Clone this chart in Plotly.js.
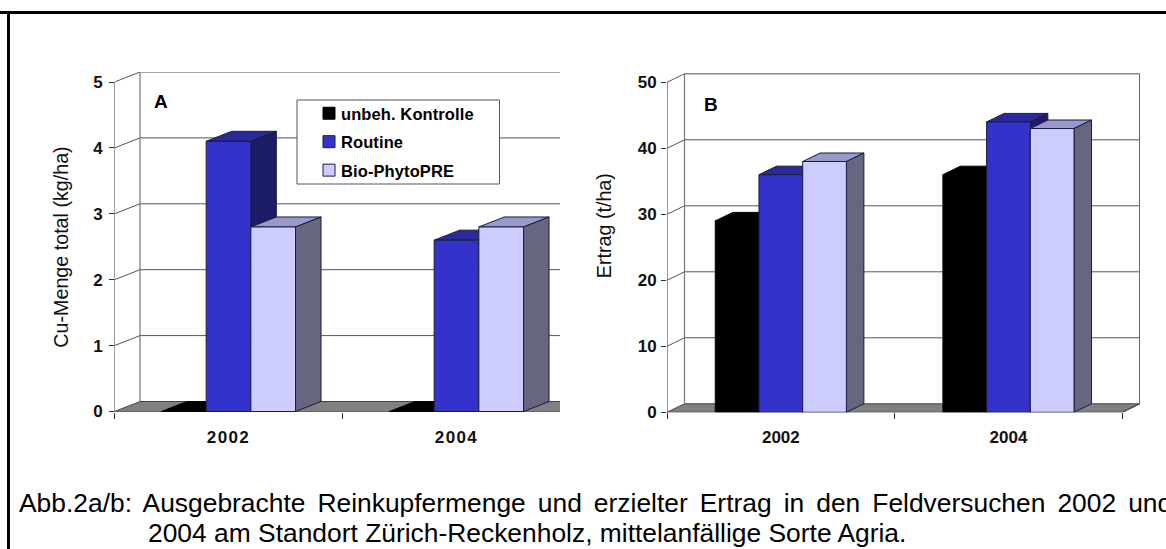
<!DOCTYPE html>
<html><head><meta charset="utf-8">
<script src="https://cdn.plot.ly/plotly-3.0.1.min.js"></script>
<style>
html,body{margin:0;padding:0;background:#fff;overflow:hidden}
.legend .legendsymbols{transform:translate(8px,0)}
.legend .legendtext{letter-spacing:.1px}
.xtick text,.ytick text{letter-spacing:1.4px}
.annotation[data-index="2"] text{word-spacing:4.7px}
</style></head><body>
<div id="chart" style="width:1166px;height:549px"></div>
<script>
const categories=['2002','2004'];
const seriesNames=['unbeh. Kontrolle','Routine','Bio-PhytoPRE'];
const cuControl=[0,0];
const cuRoutine=[4.1,2.6];
const cuBio=[2.8,2.8];
const yieldControl=[29,36];
const yieldRoutine=[36,44];
const yieldBio=[38,43];
const cuTicks=[0,1,2,3,4,5];
const yieldTicks=[0,10,20,30,40,50];
const frontColors=['#000000','#3333cc','#ccccff'];
const topColors=['#000000','#2a2a99','#9999cc'];
const sideColors=['#000000','#1c1c66','#666680'];
const edgeColors=['#000000','#1a1a40','#1a1a40'];

const W=1166,H=549;
const traces=[];const layout={
  width:W,height:H,margin:{l:0,r:0,t:0,b:0},paper_bgcolor:'#fff',plot_bgcolor:'rgba(0,0,0,0)',
  barmode:'overlay',hovermode:false,
  font:{family:'"Liberation Sans",Arial,sans-serif',color:'#000'},
  showlegend:true,
  legend:{x:301/W,y:1-96/H,xanchor:'left',yanchor:'top',bgcolor:'rgba(0,0,0,0)',borderwidth:0,
    font:{size:16.5,family:'"Liberation Sans",Arial,sans-serif',weight:'bold',color:'#000'},
    traceorder:'grouped',tracegroupgap:4},
  shapes:[
    {type:'rect',xref:'paper',yref:'paper',x0:297/W,x1:499.5/W,y0:1-184/H,y1:1-100/H,layer:'above',fillcolor:'#fff',line:{color:'#555',width:1}},
    {type:'line',xref:'paper',yref:'paper',x0:0,x1:1,y0:1-12.5/H,y1:1-12.5/H,layer:'above',line:{color:'#000',width:3}},
    {type:'line',xref:'paper',yref:'paper',x0:8.5/W,x1:8.5/W,y0:0,y1:1-11/H,layer:'above',line:{color:'#000',width:3}}
  ],
  annotations:[]
};

function poly(ax,ay,xs,ys,color,edge,width){
  traces.push({type:'scatter',mode:'lines',xaxis:ax,yaxis:ay,x:xs,y:ys,fill:'toself',fillcolor:color,
    line:{color:edge,width:width===undefined?1:width},hoverinfo:'skip',showlegend:false});
}
function lines(ax,ay,xs,ys,color,width,noclip){
  traces.push({type:'scatter',mode:'lines',xaxis:ax,yaxis:ay,x:xs,y:ys,line:{color:color,width:width},
    hoverinfo:'skip',showlegend:false,connectgaps:false,cliponaxis:!noclip});
}

function panel(p){
  const ax='x'+(p.idx===0?'':p.idx*2+1), ay='y'+(p.idx===0?'':p.idx*2+1);
  const ovx='x'+(p.idx*2+2), ovy='y'+(p.idx*2+2);
  const xName=a=>a==='x'?'xaxis':'xaxis'+a.slice(1), yName=a=>a==='y'?'yaxis':'yaxis'+a.slice(1);
  const maxVal=p.ticks[p.ticks.length-1];
  const xEnd=(p.pxRight-p.px0)/p.pxGroup;
  const yTop=(p.y0-p.domTop)/p.pxPerUnit;
  const yBottom=(p.y0-p.domBottom)/p.pxPerUnit;
  const dx=p.depthX/p.pxGroup, dy=p.depthY/p.pxPerUnit;
  const wallEnd=p.wallRight===null?xEnd+1:(p.wallRight-p.px0)/p.pxGroup;
  const frontEnd=p.frontEnd;
  const domX=[p.px0/W,p.pxRight/W], domY=[1-p.domBottom/H,1-p.domTop/H];
  const common={showgrid:false,zeroline:false,showline:false};
  layout[xName(ax)]=Object.assign({},common,{domain:domX,range:[0,xEnd],anchor:'free',position:1-p.y0/H,
    tickmode:'array',tickvals:categories.map((c,i)=>i+0.5),ticktext:categories,ticks:'',ticklen:0,
    ticklabelstandoff:13,
    tickfont:{size:17,weight:'bold',color:'#111'},
    minor:{tickmode:'array',tickvals:[0,1,2],ticks:'outside',ticklen:6,tickcolor:'#333',tickwidth:1,showgrid:false}});
  layout[yName(ay)]=Object.assign({},common,{domain:domY,range:[yBottom,yTop],anchor:ax,
    tickmode:'array',tickvals:p.ticks,ticks:'outside',ticklen:5,tickcolor:'#333',tickwidth:1,
    tickfont:{size:17,weight:'bold',color:'#111'},ticklabelstandoff:1,
    title:{text:p.title,font:{size:19.7,color:'#111'},standoff:p.standoff}});
  layout[xName(ovx)]={overlaying:ax,matches:ax,visible:false,domain:domX,anchor:ovy};
  layout[yName(ovy)]={overlaying:ay,matches:ay,visible:false,domain:domY,anchor:ovx};

  poly(ax,ay,[0,frontEnd,frontEnd+dx,dx,0],[0,0,dy,dy,0],'#808080','#444',1);
  let gx=[],gy=[];
  p.ticks.slice(1,-1).forEach(v=>{gx.push(dx,wallEnd,null);gy.push(v+dy,v+dy,null);});
  lines(ax,ay,gx,gy,'#555',1);
  lines(ax,ay,[dx,wallEnd],[maxVal+dy,maxVal+dy],'#888',1.5);
  lines(ax,ay,[dx,dx],[dy,maxVal+dy],'#777',1.2,true);
  if(p.wallRight!==null){lines(ax,ay,[wallEnd,wallEnd],[dy,maxVal+dy],'#666',1,true);
    lines(ax,ay,[frontEnd,wallEnd],[0,dy],'#444',1,true);}
  let ddx=[],ddy=[];
  p.ticks.slice(1).forEach(v=>{ddx.push(0,dx,null);ddy.push(v,v+dy,null);});
  lines(ax,ay,ddx,ddy,'#555',1,true);
  lines(ax,ay,[0,0],[0,maxVal],'#333',1,true);
  lines(ax,ay,[0,frontEnd],[0,0],'#666',1,true);

  categories.forEach((c,g)=>{
    p.series.forEach((vals,i)=>{
      const v=vals[g], x0=g+0.5+(i-1.5)*p.barW, x1=x0+p.barW;
      poly(ax,ay,[x0,x1,x1+dx,x0+dx,x0],[v,v,v+dy,v+dy,v],topColors[i],edgeColors[i]);
      if(v>0) poly(ax,ay,[x1,x1+dx,x1+dx,x1,x1],[0,dy,v+dy,v,0],sideColors[i],edgeColors[i]);
    });
  });
  p.series.forEach((vals,i)=>{
    traces.push({type:'bar',xaxis:ovx,yaxis:ovy,name:seriesNames[i],
      x:categories.map((c,g)=>g+0.5+(i-1)*p.barW),y:vals,width:p.barW,
      marker:{color:frontColors[i],line:{color:edgeColors[i],width:1}},
      legendgroup:'s'+i,showlegend:p.idx===0,hoverinfo:'skip'});
  });
}

panel({idx:0,px0:114.5,pxRight:560,pxGroup:228,y0:411.5,domTop:72,domBottom:422,pxPerUnit:65.9,depthX:25.5,depthY:10,
  ticks:cuTicks,series:[cuControl,cuRoutine,cuBio],barW:0.196,wallRight:null,frontEnd:3,
  title:'Cu-Menge total (kg/ha)',standoff:19});
panel({idx:1,px0:667,pxRight:1141,pxGroup:227.65,y0:412.3,domTop:39,domBottom:412.3,pxPerUnit:6.6,depthX:17.5,depthY:8.5,
  ticks:yieldTicks,series:[yieldControl,yieldRoutine,yieldBio],barW:0.192,wallRight:1139.5,frontEnd:2,
  title:'Ertrag (t/ha)',standoff:20});

function note(text,px,py,size,bold,xanchor,yanchor){
  layout.annotations.push({text:text,xref:'paper',yref:'paper',x:px/W,y:1-py/H,xanchor:xanchor||'left',yanchor:yanchor||'middle',
    showarrow:false,font:{size:size,weight:bold?'bold':'normal',color:'#000'},borderpad:0,align:'left'});
}
note('A',161,101.5,19,true,'center');
note('B',710.5,104.5,19,true,'center');
note('Abb.2a/b: Ausgebrachte Reinkupfermenge und erzielter Ertrag in den Feldversuchen 2002 und',18,502.5,26.4,false);
note('2004 am Standort Zürich-Reckenholz, mittelanfällige Sorte Agria.',147,532.5,26.4,false);

Plotly.newPlot('chart',traces,layout,{displayModeBar:false,staticPlot:true});
</script></body></html>
